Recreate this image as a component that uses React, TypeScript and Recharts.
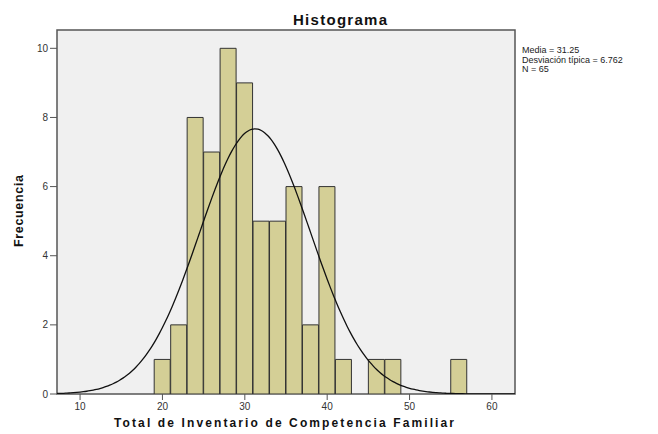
import React from 'react';
import { ComposedChart, Bar, Line, XAxis, YAxis, CartesianGrid, ReferenceArea } from 'recharts';

// Histogram bins (width 2), centers and frequencies
const binCenters = [20, 22, 24, 26, 28, 30, 32, 34, 36, 38, 40, 42, 44, 46, 48, 50, 52, 54, 56];
const frequencies = [1, 2, 8, 7, 10, 9, 5, 5, 6, 2, 6, 1, null, 1, 1, null, null, null, 1];

const xTicks = [10, 20, 30, 40, 50, 60];
const yTicks = [0, 2, 4, 6, 8, 10];

// Statistics printed on the chart (used for the fitted normal curve)
const MEAN = 31.25;
const SD = 6.762;
const N = 65;
const BIN_WIDTH = 2;

const X_DOMAIN: [number, number] = [7.2, 62.8];
const Y_DOMAIN: [number, number] = [0, 10.53];

const legendLines = ['Media = 31.25', 'Desviación típica = 6.762', 'N = 65'];
const TITLE = 'Histograma';
const X_LABEL = 'Total de Inventario de Competencia Familiar';
const Y_LABEL = 'Frecuencia';

const histData = binCenters.map((c, i) => ({ center: c, count: frequencies[i] }));

const curveData: { x: number; y: number }[] = [];
for (let x = X_DOMAIN[0]; x <= X_DOMAIN[1] + 1e-9; x += 0.4) {
  const z = (x - MEAN) / SD;
  curveData.push({
    x,
    y: (N * BIN_WIDTH) / (SD * Math.sqrt(2 * Math.PI)) * Math.exp(-0.5 * z * z),
  });
}

const FONT = '"Liberation Sans", Arial, Helvetica, sans-serif';

export default function App() {
  return (
    <div
      style={{
        position: 'absolute',
        left: 0,
        top: 0,
        width: 658,
        height: 434,
        background: '#ffffff',
        fontFamily: FONT,
      }}
    >
      <ComposedChart
        width={658}
        height={434}
        data={histData}
        margin={{ top: 30, right: 143, bottom: 0, left: 0 }}
        barCategoryGap={0}
        barGap={0}
      >
        <CartesianGrid xAxisId="bins" yAxisId="freq" horizontal={false} vertical={false} fill="#f0f0f0" />
        <XAxis
          xAxisId="bins"
          dataKey="center"
          type="number"
          domain={X_DOMAIN}
          ticks={xTicks}
          allowDataOverflow
          interval={0}
          height={40}
          tickSize={6}
          tickMargin={3}
          tick={{ fontSize: 10, fill: '#333', fontFamily: FONT }}
          tickLine={{ stroke: '#555' }}
          axisLine={false}
        />
        <XAxis
          xAxisId="curve"
          dataKey="x"
          type="number"
          domain={X_DOMAIN}
          allowDataOverflow
          hide
        />
        <YAxis
          yAxisId="freq"
          type="number"
          domain={Y_DOMAIN}
          ticks={yTicks}
          allowDataOverflow
          interval={0}
          width={57}
          tickSize={7}
          tickMargin={2}
          tick={{ fontSize: 10, fill: '#333', fontFamily: FONT }}
          tickLine={{ stroke: '#555' }}
          axisLine={false}
        />
        <Bar
          xAxisId="bins"
          yAxisId="freq"
          dataKey="count"
          fill="#d4cf96"
          stroke="#333"
          strokeWidth={1}
          isAnimationActive={false}
        />
        <Line
          xAxisId="curve"
          yAxisId="freq"
          data={curveData}
          dataKey="y"
          type="monotone"
          dot={false}
          activeDot={false}
          stroke="#111"
          strokeWidth={1.3}
          isAnimationActive={false}
        />
        <ReferenceArea
          xAxisId="bins"
          yAxisId="freq"
          x1={X_DOMAIN[0]}
          x2={X_DOMAIN[1]}
          y1={Y_DOMAIN[0]}
          y2={Y_DOMAIN[1]}
          fill="none"
          fillOpacity={0}
          stroke="#555"
          strokeWidth={1.5}
          strokeOpacity={1}
          ifOverflow="visible"
        />
      </ComposedChart>
      <svg
        width={658}
        height={434}
        style={{ position: 'absolute', left: 0, top: 0, pointerEvents: 'none' }}
      >
        <text
          x={340}
          y={25}
          textAnchor="middle"
          fontFamily={FONT}
          fontWeight="bold"
          fontSize={15}
          fill="#111"
          textLength={94}
          lengthAdjust="spacing"
        >
          {TITLE}
        </text>
        <text
          x={284}
          y={427}
          textAnchor="middle"
          fontFamily={FONT}
          fontWeight="bold"
          fontSize={12}
          fill="#111"
          textLength={340}
          lengthAdjust="spacing"
        >
          {X_LABEL}
        </text>
        <text
          transform="translate(22.5,211) rotate(-90)"
          textAnchor="middle"
          fontFamily={FONT}
          fontWeight="bold"
          fontSize={12.5}
          fill="#111"
          textLength={72}
          lengthAdjust="spacing"
        >
          {Y_LABEL}
        </text>
        {legendLines.map((t, i) => (
          <text
            key={t}
            x={522}
            y={53 + i * 9.5}
            fontFamily={FONT}
            fontSize={9}
            fill="#222"
          >
            {t}
          </text>
        ))}
      </svg>
    </div>
  );
}
